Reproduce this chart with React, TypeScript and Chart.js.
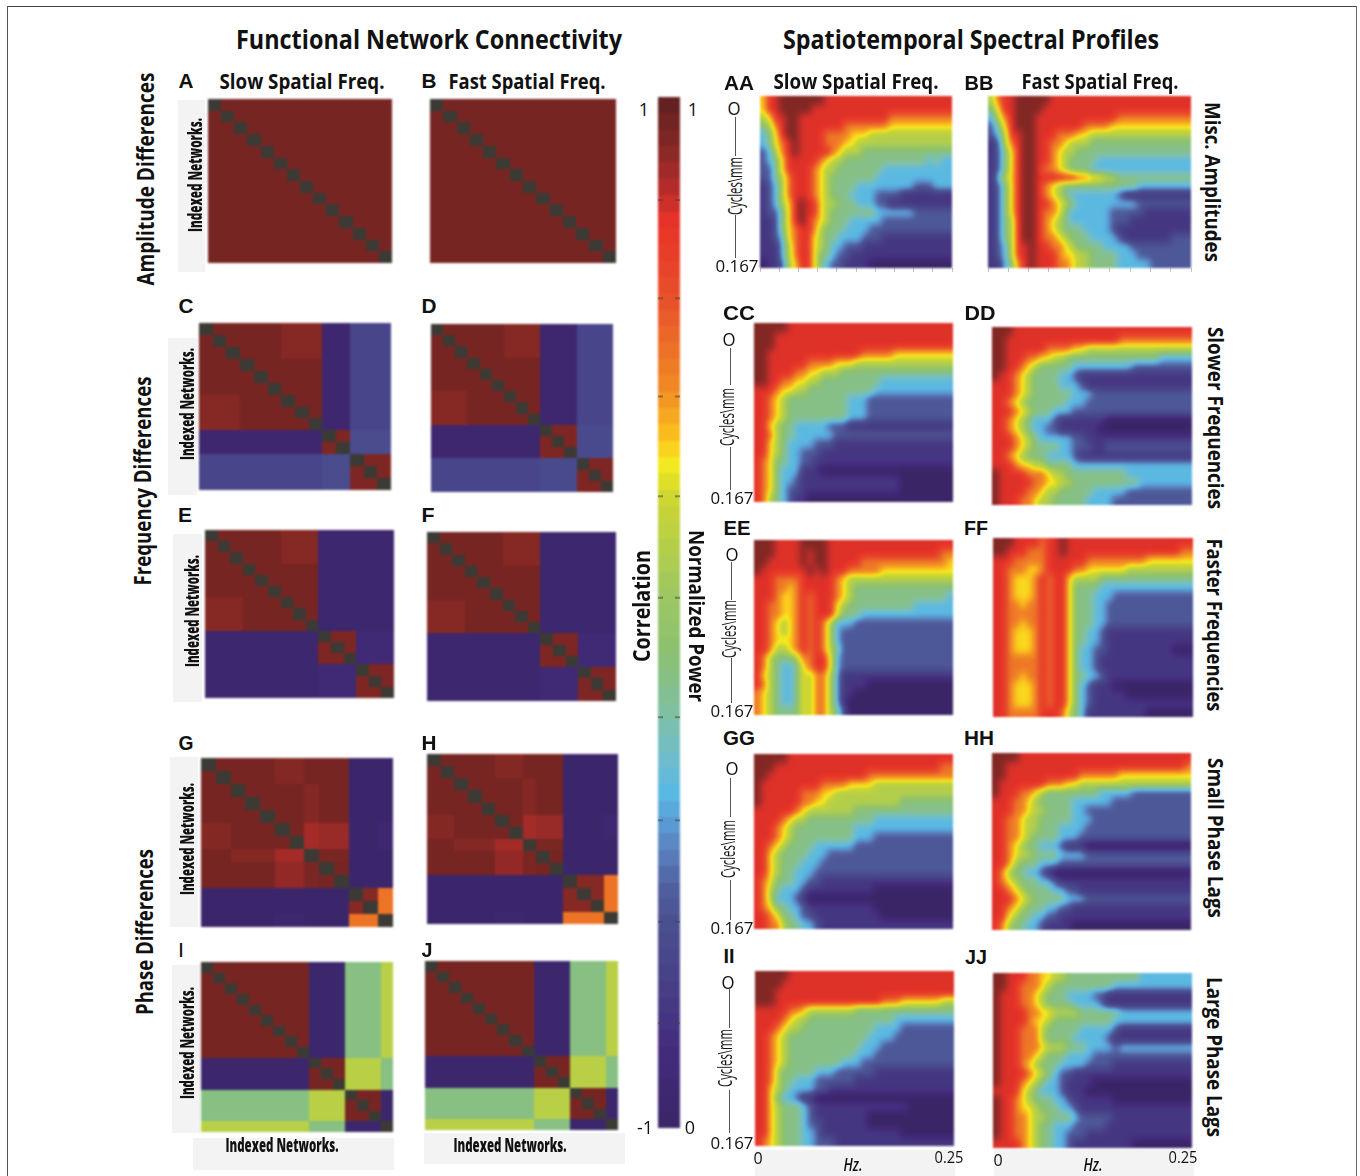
import React, { useEffect, useRef } from "react";
import { Chart, registerables } from "chart.js";

Chart.register(...registerables);

// ---------- Colour scale (position 0 = top of the bar, 1 = bottom) ----------
const colorStops: [number, number, number, number][] = [
  [0, 0x5e, 0x20, 0x20], [0.05, 0x86, 0x28, 0x24], [0.085, 0xb0, 0x2c, 0x2a], [0.12, 0xe7, 0x32, 0x28],
  [0.194, 0xe8, 0x4f, 0x2a], [0.283, 0xf0, 0x8a, 0x24], [0.332, 0xfb, 0xc4, 0x1c], [0.355, 0xf6, 0xea, 0x1f],
  [0.387, 0xcf, 0xd6, 0x2f], [0.478, 0x9e, 0xc8, 0x60], [0.539, 0x8c, 0xc0, 0x70], [0.594, 0x7f, 0xc0, 0xa0],
  [0.636, 0x72, 0xbd, 0xc8], [0.675, 0x5a, 0xb9, 0xe2], [0.7, 0x5a, 0x9f, 0xd6], [0.733, 0x5a, 0x7f, 0xbc],
  [0.766, 0x50, 0x60, 0x9f], [0.8, 0x4a, 0x4f, 0x90], [0.863, 0x47, 0x3f, 0x86], [0.927, 0x43, 0x2b, 0x7c],
  [1, 0x3a, 0x25, 0x66],
];
const toneCurve: [number, number][] = [
  [0, 0.03], [0.02, 0.045], [0.13, 0.115], [0.25, 0.27], [0.38, 0.37], [0.47, 0.45], [0.56, 0.56], [1, 1],
];
const diagonalColor = [0x3c, 0x3a, 0x34];

// ---------- Functional network connectivity: block sizes and block correlations ----------
const blocksA = [14];
const corrA = [[0.94]];
const blocksB = [14];
const corrB = [[0.94]];

const blocksC = [3, 3, 3, 2, 3];
const corrC = [
  [0.94, 0.94, 0.9, -0.94, -0.68],
  [0.94, 0.94, 0.94, -0.94, -0.68],
  [0.9, 0.94, 0.94, -0.94, -0.68],
  [-0.94, -0.94, -0.94, 0.92, -0.62],
  [-0.68, -0.68, -0.68, -0.62, 0.92],
];
const blocksD = [3, 3, 3, 3, 3];
const corrD = [
  [0.94, 0.94, 0.9, -0.94, -0.68],
  [0.94, 0.94, 0.94, -0.94, -0.68],
  [0.9, 0.94, 0.94, -0.94, -0.68],
  [-0.94, -0.94, -0.94, 0.92, -0.64],
  [-0.68, -0.68, -0.68, -0.64, 0.92],
];
const blocksE = [3, 3, 3, 3, 3];
const corrE = [
  [0.94, 0.94, 0.9, -0.95, -0.95],
  [0.94, 0.94, 0.94, -0.95, -0.95],
  [0.9, 0.94, 0.94, -0.95, -0.95],
  [-0.95, -0.95, -0.95, 0.92, -0.9],
  [-0.95, -0.95, -0.95, -0.9, 0.92],
];
const blocksF = [3, 3, 3, 3, 3];
const corrF = [
  [0.94, 0.94, 0.9, -0.95, -0.95],
  [0.94, 0.94, 0.94, -0.95, -0.95],
  [0.9, 0.94, 0.94, -0.95, -0.95],
  [-0.95, -0.95, -0.95, 0.92, -0.9],
  [-0.95, -0.95, -0.95, -0.9, 0.92],
];
const blocksG = [2, 3, 2, 1, 2, 2, 1];
const corrG = [
  [0.94, 0.94, 0.905, 0.94, 0.94, -0.97, -0.97],
  [0.94, 0.94, 0.94, 0.905, 0.94, -0.97, -0.97],
  [0.905, 0.94, 0.94, 0.85, 0.87, -0.97, -0.92],
  [0.94, 0.905, 0.85, 0.94, 0.93, -0.97, -0.97],
  [0.94, 0.94, 0.88, 0.93, 0.94, -0.97, -0.97],
  [-0.97, -0.97, -0.97, -0.97, -0.97, 0.9, 0.5],
  [-0.97, -0.97, -0.95, -0.97, -0.97, 0.5, 0.9],
];
const blocksH = [2, 3, 2, 1, 2, 3, 1];
const corrH = [
  [0.94, 0.94, 0.905, 0.94, 0.94, -0.97, -0.97],
  [0.94, 0.94, 0.94, 0.905, 0.94, -0.97, -0.97],
  [0.905, 0.94, 0.94, 0.85, 0.87, -0.97, -0.92],
  [0.94, 0.905, 0.85, 0.94, 0.93, -0.97, -0.97],
  [0.94, 0.94, 0.88, 0.93, 0.94, -0.97, -0.97],
  [-0.97, -0.97, -0.97, -0.97, -0.97, 0.9, 0.5],
  [-0.97, -0.97, -0.95, -0.97, -0.97, 0.5, 0.9],
];
const blocksI = [9, 3, 3, 1];
const corrI = [
  [0.94, -0.96, -0.12, 0.14],
  [-0.96, 0.94, 0.14, -0.12],
  [-0.12, 0.14, 0.94, -0.96],
  [0.14, -0.12, -0.96, 0.94],
];
const blocksJ = [9, 3, 3, 1];
const corrJ = [
  [0.94, -0.96, -0.12, 0.14],
  [-0.96, 0.94, 0.14, -0.12],
  [-0.12, 0.14, 0.94, -0.96],
  [0.14, -0.12, -0.96, 0.94],
];

// ---------- Spatiotemporal spectral profiles: normalized power, 0-9 = 0..1, row = spatial freq, col = Hz ----------
const powerAA = [
  "688999999988888888888888888888",
  "688999998888888888888888888888",
  "568899888888888888887777777777",
  "457899888888877777776666666666",
  "346899888877776665555555555555",
  "346789888877766555555555555555",
  "235789888887655544444444444444",
  "234688888765544444444444443433",
  "224688887655444444433333333333",
  "224578887654444444333333333333",
  "123578887654444333333333222333",
  "123578887654443333222211111111",
  "123568988655444333221111111111",
  "122468988654444444333333222222",
  "112468987654443333322222222222",
  "112467887544433332222222222222",
  "112367886544333322211111111111",
  "111357886543322211111111111111",
  "111357886443221111111111111111",
  "011256886432211110000000000000",
];
const powerBB = [
  "578899999888888888888888888888",
  "468899998888888888888888888888",
  "357899988888888888877777777777",
  "246899988888887777666666666666",
  "235889988877766555555555555555",
  "125789988776555444444444444444",
  "124689988765544444444444444444",
  "124689988765444433333333333333",
  "124689987765444333333333333333",
  "135689988888877665544444444444",
  "124689987654444444444433333333",
  "124689987654333333321111111111",
  "124689988765433333333322222222",
  "124689987764333333222221111111",
  "124589987654333333222111111111",
  "124589987654443333211111111111",
  "124589987765444333321111111222",
  "123588988776544443333222222222",
  "123588988876655444433322222222",
  "113478988877655444433333222222",
];
const powerCC = [
  "999998888888888888888888888888",
  "999888888888888888888888888888",
  "999888888888888888888888888888",
  "998888888888888877777666666666",
  "998888887777666555555555555555",
  "998888776655544444444444444444",
  "998877665544444444433333333333",
  "888766554444444444333333333333",
  "887654444444443332222222222222",
  "887654444444443332222222222222",
  "887654444444443332222222222222",
  "886544333332221111111111111111",
  "887544333333222222222222222222",
  "886543333222111111111111111111",
  "886543322211111111111111111111",
  "876443322111111111111111111111",
  "876433311100000000000000000000",
  "876433211111111111111100000000",
  "876432211111111111111100000000",
  "875432110000000000000000000000",
];
const powerDD = [
  "999888888888888888888888888888",
  "998888888888888888877777777777",
  "998888887777665555555555555555",
  "998887766554444444444444433333",
  "998876544444333333333222222222",
  "988765444433211111111111111111",
  "888765444433321111111111111111",
  "888765444444333222222222222222",
  "887654444443332222222222222222",
  "888765444333222222222222222222",
  "887654333211111110000000000000",
  "887654332211111100000000000000",
  "888765433333221111111111111111",
  "888765444433222112222222222222",
  "887654443333211111111111111111",
  "888766554444333333333333333333",
  "988887776554444444443333333333",
  "988888776655444444444433333333",
  "988887765544444333332222222222",
  "988877655444443333222222222222",
];
const powerEE = [
  "999888899998888888888888888888",
  "999888898998888888888888888877",
  "998888898998888877777777777776",
  "988888889898887777766666666666",
  "888777788888765555555555555555",
  "888776788888765444444444444444",
  "888766787888765444444444444443",
  "887766787888654444444444333333",
  "887766787888644433333333333333",
  "887656787875333222222222222222",
  "887656787875322222222222222222",
  "887666787875322222222222222222",
  "887556787875422222222222222222",
  "875444577886322222222222222222",
  "875433467886322222222222222222",
  "865433465775311111111111111111",
  "875433465775311110000000000000",
  "765433465775311000000000000000",
  "765433465775310000000000000000",
  "765444465775420000000000000000",
];
const powerFF = [
  "999888878898888888888888888888",
  "998887778898888888888888888877",
  "888777778888887777777776666666",
  "887776678888776666665555555555",
  "887666787886555544444444444444",
  "887666787886444433333333333333",
  "887666787886444333222222222222",
  "887767787886444332222222222222",
  "887777787886444332222222222222",
  "887767787886444332222222222222",
  "887666787886443321111111111111",
  "887666787886443321111111111111",
  "887666787886433221111111111000",
  "887777787886433211111111111111",
  "887777787886433211111111111111",
  "887767787886443321111111111111",
  "887666787886432111000000000000",
  "887666787886432111110000000000",
  "887666787886432111111111111111",
  "887777788875431111111110000000",
];
const powerGG = [
  "999998888888888888888888888888",
  "999888888888888888888888888877",
  "998888888888888887777777777777",
  "988888888877776666555555555555",
  "988888877766555555555555555555",
  "988888877665555555555544444444",
  "888888765555555444444444444444",
  "888876554444444444333333333333",
  "888765444444444333333333333333",
  "888765444444444333222222222222",
  "887654444333333222222222222222",
  "886544443332222222222222222222",
  "886544433322222222222222222222",
  "886544333222222222222222222222",
  "876444332211111111111111111111",
  "875433321111111111000000000000",
  "875333210000000000000000000000",
  "876443321111111111000000000000",
  "887644322111111111100000000000",
  "887754433211111111111111111111",
];
const powerHH = [
  "999988888888888888888888888888",
  "998888888888888888888888888887",
  "998888888888877777766666666666",
  "988888887776655555555555555555",
  "988877654444444433333222222222",
  "888776544444333333222222222222",
  "888776554444332222222222222222",
  "887765544444333222222222222222",
  "887765544433332222222222222222",
  "887765444433322222222222222222",
  "887654433321110000000000000000",
  "887655444433332222222222222222",
  "887544433322222222222222222222",
  "875443321000000000000000000000",
  "876544433211111111111111111111",
  "887654444332211111111111111111",
  "888765444443332222222222222222",
  "887654443322111111111111111111",
  "886544332211111111111111111111",
  "875443321111000000000000000000",
];
const powerII = [
  "999998888888888888888888888888",
  "999988888888888888888888888888",
  "999888888888888888888888888888",
  "999888888888888888877766666655",
  "888887765555555444444444444444",
  "888876554444444444444333333333",
  "888765544444444444333322222222",
  "887654444444444443333222222222",
  "887654444444444433322222222222",
  "887654444444444333222222222222",
  "887654444444433322222222222222",
  "887544444333222222111111111111",
  "887544333222222111111111111111",
  "886543333221111111111111111111",
  "886433211000000000000000000000",
  "886544432111111111111110000000",
  "886544432111111110000000000000",
  "886544432211111110000000000000",
  "886544433211111111111100000000",
  "876544433222111111111111111111",
];
const powerJJ = [
  "998887766554444444444433333333",
  "998877765444444444333333333333",
  "988877654443333221111111111111",
  "988877654444333321111111111111",
  "988887766555544444433333333333",
  "988887665444444444333333333333",
  "988877754444433333211111111111",
  "988877754444333332111111111111",
  "988877765554443333233333333333",
  "988877654443333222222222222222",
  "988876544433332222111111111111",
  "988887654322111111111111111111",
  "988876543321111000000000000000",
  "888865433321110000000000000000",
  "988765444332111111000000000000",
  "988766544433211111111111111111",
  "988776554444322222111111111111",
  "988776544333222221111111111111",
  "988776544332221111111111111111",
  "888876544332111111111000000000",
];

// ---------- Colour bar ----------
const colorbarRowCount = [63];
const colorbarTickRows = [6.3, 12.3, 18.3, 24.4, 30.6, 37.9, 44.2, 50.4, 56.6];
const hzTickSteps = [3];

// ---------- Helpers ----------
function scaleColor(t: number): number[] {
  const p = Math.min(1, Math.max(0, t));
  for (let i = 1; i < colorStops.length; i++) {
    if (p <= colorStops[i][0]) {
      const a = colorStops[i - 1];
      const b = colorStops[i];
      const f = (p - a[0]) / (b[0] - a[0]);
      return [a[1] + (b[1] - a[1]) * f, a[2] + (b[2] - a[2]) * f, a[3] + (b[3] - a[3]) * f];
    }
  }
  const l = colorStops[colorStops.length - 1];
  return [l[1], l[2], l[3]];
}
function applyTone(t: number): number {
  for (let i = 1; i < toneCurve.length; i++) {
    if (t <= toneCurve[i][0]) {
      const a = toneCurve[i - 1];
      const b = toneCurve[i];
      return a[1] + ((b[1] - a[1]) * (t - a[0])) / (b[0] - a[0]);
    }
  }
  return t;
}

function corrGrid(blocks: number[], table: number[][]): (number | null)[][] {
  const idx: number[] = [];
  blocks.forEach((n, b) => { for (let i = 0; i < n; i++) idx.push(b); });
  return idx.map((bi, r) => idx.map((bj, c) => (r === c ? null : (1 - table[bi][bj]) / 2)));
}
function powerGrid(rows: string[]): (number | null)[][] {
  return rows.map((s) => s.split("").map((d) => 1 - (Number(d) / 9) * 0.98));
}

// Soft display filter of the resampled field (the reference is a blurred bitmap).
function boxPass(src: Float32Array, W: number, H: number, horizontal: boolean, radius: number): Float32Array {
  const dst = new Float32Array(W * H);
  const len = horizontal ? W : H;
  const lines = horizontal ? H : W;
  for (let l = 0; l < lines; l++) {
    for (let i = 0; i < len; i++) {
      let sum = 0;
      for (let k = -radius; k <= radius; k++) {
        const j = Math.max(0, Math.min(len - 1, i + k));
        sum += horizontal ? src[l * W + j] : src[j * W + l];
      }
      dst[horizontal ? l * W + i : i * W + l] = sum / (2 * radius + 1);
    }
  }
  return dst;
}

const PAD = 3;

const heatPlugin = {
  id: "heat",
  beforeDatasetsDraw(chart: any) {
    const ds = chart.data.datasets[0];
    const cells = ds.data as { x: number; y: number; t: number | null }[];
    const xs = chart.scales.x;
    const ys = chart.scales.y;
    const cols = xs.max;
    const rows = ys.max;
    const x0 = xs.getPixelForValue(0);
    const y0 = ys.getPixelForValue(0);
    const w = xs.getPixelForValue(cols) - x0;
    const h = ys.getPixelForValue(rows) - y0;
    const off = document.createElement("canvas");
    const ctx = chart.ctx;
    ctx.save();
    ctx.filter = `blur(${ds.blurPx}px)`;
    if (ds.smooth) {
      const field = new Float32Array(cols * rows);
      cells.forEach((c) => { field[Math.floor(c.y) * cols + Math.floor(c.x)] = c.t as number; });
      const W = Math.round(w);
      const H = Math.round(h);
      off.width = W;
      off.height = H;
      const octx = off.getContext("2d")!;
      const img = octx.createImageData(W, H);
      let fine = new Float32Array(W * H);
      for (let py = 0; py < H; py++) {
        const v = Math.max(0, Math.min(rows - 1, ((py + 0.5) / H) * rows - 0.5));
        const r0 = Math.floor(v);
        const r1 = Math.min(rows - 1, r0 + 1);
        const fv = v - r0;
        for (let px = 0; px < W; px++) {
          const u = Math.max(0, Math.min(cols - 1, ((px + 0.5) / W) * cols - 0.5));
          const c0 = Math.floor(u);
          const c1 = Math.min(cols - 1, c0 + 1);
          const fu = u - c0;
          fine[py * W + px] =
            (field[r0 * cols + c0] * (1 - fu) + field[r0 * cols + c1] * fu) * (1 - fv) +
            (field[r1 * cols + c0] * (1 - fu) + field[r1 * cols + c1] * fu) * fv;
        }
      }
      fine = boxPass(boxPass(fine, W, H, true, 3), W, H, true, 3);
      fine = boxPass(boxPass(fine, W, H, false, 3), W, H, false, 2);
      for (let i = 0; i < W * H; i++) {
        const col = scaleColor(applyTone(fine[i]));
        img.data[i * 4] = col[0];
        img.data[i * 4 + 1] = col[1];
        img.data[i * 4 + 2] = col[2];
        img.data[i * 4 + 3] = 255;
      }
      octx.putImageData(img, 0, 0);
      ctx.drawImage(off, x0, y0, w, h);
    } else {
      off.width = cols;
      off.height = rows;
      const octx = off.getContext("2d")!;
      const img = octx.createImageData(cols, rows);
      cells.forEach((c) => {
        const col = c.t === null ? diagonalColor : scaleColor(c.t);
        const o = (Math.floor(c.y) * cols + Math.floor(c.x)) * 4;
        img.data[o] = col[0];
        img.data[o + 1] = col[1];
        img.data[o + 2] = col[2];
        img.data[o + 3] = 255;
      });
      octx.putImageData(img, 0, 0);
      ctx.imageSmoothingEnabled = false;
      ctx.drawImage(off, x0, y0, w, h);
    }
    ctx.filter = "none";
    if (ds.sideTicks) {
      ctx.fillStyle = "rgba(70,70,70,0.55)";
      ds.sideTicks.forEach((r: number) => {
        const py = ys.getPixelForValue(r);
        ctx.fillRect(x0, py - 1, 5, 2);
        ctx.fillRect(x0 + w - 5, py - 1, 5, 2);
      });
    }
    ctx.restore();
  },
};

type HeatProps = {
  grid: (number | null)[][];
  left: number; top: number; right: number; bottom: number;
  smooth?: boolean; sideTicks?: number[]; hzTicks?: boolean; blur?: number;
};

function Heat({ grid, left, top, right, bottom, smooth, sideTicks, hzTicks, blur }: HeatProps) {
  const ref = useRef<HTMLCanvasElement>(null);
  useEffect(() => {
    const rows = grid.length;
    const cols = grid[0].length;
    const cells: any[] = [];
    grid.forEach((row, r) => row.forEach((t, c) => cells.push({ x: c + 0.5, y: r + 0.5, t })));
    const chart = new Chart(ref.current!, {
      type: "scatter",
      data: { datasets: [{ data: cells, pointRadius: 0, smooth, sideTicks, blurPx: blur ?? 0.8 } as any] },
      options: {
        responsive: false,
        animation: false,
        events: [],
        layout: { padding: PAD },
        plugins: { legend: { display: false }, tooltip: { enabled: false }, title: { display: false } },
        scales: {
          x: hzTicks
            ? {
                type: "linear", min: 0, max: cols,
                ticks: { display: true, stepSize: hzTickSteps[0], callback: () => "", padding: 0 },
                grid: { drawOnChartArea: false, drawTicks: true, tickLength: 4, color: "#c4c4c4" },
                border: { display: false },
                afterFit: (s: any) => { s.height = 5; s.paddingLeft = 0; s.paddingRight = 0; },
              }
            : { type: "linear", min: 0, max: cols, display: false },
          y: { type: "linear", min: 0, max: rows, reverse: true, display: false },
        },
      } as any,
      plugins: [heatPlugin as any],
    });
    return () => chart.destroy();
  }, []);
  const w = right - left + PAD * 2;
  const h = bottom - top + PAD * 2 + (hzTicks ? 5 : 0);
  return (
    <canvas
      ref={ref}
      width={w}
      height={h}
      style={{ position: "absolute", left: left - PAD, top: top - PAD, width: w, height: h, display: "block" }}
    />
  );
}

// ---------- Text ----------
const measureCtx = document.createElement("canvas").getContext("2d")!;
const HEAD = '"Open Sans"';
const ARIAL = '"Liberation Sans"';

function Label({ t, cx, cy, len, size, weight = 700, rot = 0, font = HEAD, italic = false, color = "#111" }: any) {
  const style = italic ? "italic " : "";
  measureCtx.font = `${style}${weight} ${size}px ${font}`;
  const natural = measureCtx.measureText(t).width;
  const s = len ? len / natural : 1;
  return (
    <div
      style={{
        position: "absolute", left: cx, top: cy, whiteSpace: "nowrap", lineHeight: 1, color,
        fontFamily: font, fontSize: size, fontWeight: weight, fontStyle: italic ? "italic" : "normal",
        transform: `translate(-50%,-50%) rotate(${rot}deg) scaleX(${s})`,
      }}
    >
      {t}
    </div>
  );
}

function Box({ x0, y0, x1, y1, bg = "#f3f3f3" }: any) {
  return <div style={{ position: "absolute", left: x0, top: y0, width: x1 - x0, height: y1 - y0, background: bg }} />;
}

function CycleAxis({ o, lineX, a0, a1, b0, b1, textX, textMid, zeroMid }: any) {
  return (
    <>
      <Label t="O" cx={o[0]} cy={o[1]} size={18} weight={400} len={13} />
      <Box x0={lineX} y0={a0} x1={lineX + 1} y1={a1} bg="#555" />
      <Box x0={lineX} y0={b0} x1={lineX + 1} y1={b1} bg="#555" />
      <Label t="Cycles\mm" cx={textX} cy={textMid} size={20} weight={400} rot={-90} len={58} />
      <Label t="0.167" cx={zeroMid[0]} cy={zeroMid[1]} size={17} weight={400} len={43} />
    </>
  );
}

const panelLetters: [string, number, number, number][] = [
  ["A", 185.5, 81, 15], ["B", 428.5, 81, 15], ["C", 186, 306, 15], ["D", 429, 306, 15],
  ["E", 185, 515, 14], ["F", 428, 515, 13], ["G", 186, 743, 15], ["H", 429, 743, 15],
  ["I", 181, 950, 4], ["J", 427, 950, 11],
  ["AA", 739, 83, 30], ["BB", 978.5, 83, 29], ["CC", 739, 313, 32], ["DD", 979.5, 313, 31],
  ["EE", 736.5, 528, 27], ["FF", 976, 528, 24], ["GG", 739, 738, 32], ["HH", 979, 738, 30],
  ["II", 729, 956, 11], ["JJ", 976, 957, 22],
];

export default function App() {
  useEffect(() => {
    document.body.style.margin = "0";
  }, []);
  const barRows = Array.from({ length: colorbarRowCount[0] }, (_, i) => [(i + 0.5) / colorbarRowCount[0]]);
  return (
    <div style={{ position: "absolute", left: 0, top: 0, width: 1360, height: 1176, background: "#fff", overflow: "hidden" }}>
      {/* frame */}
      <Box x0={7} y0={6} x1={1357} y1={7} bg="#444" />
      <Box x0={7} y0={6} x1={8} y1={1176} bg="#555" />
      <Box x0={1355.5} y0={6} x1={1357} y1={1176} bg="#666" />

      {/* grey strips behind axis names */}
      <Box x0={178} y0={100} x1={205} y1={272} />
      <Box x0={168} y0={338} x1={197} y1={495} />
      <Box x0={173} y0={534} x1={202} y1={702} />
      <Box x0={170} y0={757} x1={198} y1={927} />
      <Box x0={172} y0={965} x1={200} y1={1133} />
      <Box x0={193} y0={1138} x1={394} y1={1170} />
      <Box x0={424} y0={1133} x1={625} y1={1164} />
      <Box x0={755} y0={1150} x1={955} y1={1176} />
      <Box x0={994} y0={1150} x1={1194} y1={1176} />

      {/* connectivity matrices */}
      <Heat grid={corrGrid(blocksA, corrA)} left={208} top={99} right={392} bottom={263} />
      <Heat grid={corrGrid(blocksB, corrB)} left={430} top={99} right={616} bottom={263} />
      <Heat grid={corrGrid(blocksC, corrC)} left={199} top={323} right={391} bottom={490} />
      <Heat grid={corrGrid(blocksD, corrD)} left={431} top={324} right={613} bottom={492} />
      <Heat grid={corrGrid(blocksE, corrE)} left={205} top={530} right={394} bottom={698} />
      <Heat grid={corrGrid(blocksF, corrF)} left={427} top={532} right={616} bottom={701} />
      <Heat grid={corrGrid(blocksG, corrG)} left={201} top={758} right={393} bottom={927} />
      <Heat grid={corrGrid(blocksH, corrH)} left={427} top={754} right={618} bottom={924} />
      <Heat grid={corrGrid(blocksI, corrI)} left={201} top={962} right={393} bottom={1132} />
      <Heat grid={corrGrid(blocksJ, corrJ)} left={425} top={961} right={618} bottom={1130} />

      {/* colour bar */}
      <Heat grid={barRows} left={658} top={97} right={680} bottom={1128} sideTicks={colorbarTickRows} blur={1} />

      {/* spectral profiles */}
      <Heat grid={powerGrid(powerAA)} left={760} top={96} right={952} bottom={268} smooth hzTicks />
      <Heat grid={powerGrid(powerBB)} left={988} top={96} right={1191} bottom={268} smooth hzTicks />
      <Heat grid={powerGrid(powerCC)} left={754} top={323} right={953} bottom={502} smooth />
      <Heat grid={powerGrid(powerDD)} left={992} top={327} right={1192} bottom={505} smooth />
      <Heat grid={powerGrid(powerEE)} left={754} top={540} right={953} bottom={715} smooth />
      <Heat grid={powerGrid(powerFF)} left={993} top={538} right={1193} bottom={717} smooth />
      <Heat grid={powerGrid(powerGG)} left={754} top={754} right={953} bottom={929} smooth />
      <Heat grid={powerGrid(powerHH)} left={992} top={753} right={1191} bottom={930} smooth />
      <Heat grid={powerGrid(powerII)} left={755} top={971} right={954} bottom={1146} smooth />
      <Heat grid={powerGrid(powerJJ)} left={993} top={973} right={1192} bottom={1148} smooth />

      {/* headings */}
      <Label t="Functional Network Connectivity" cx={429} cy={38} len={386} size={27} />
      <Label t="Spatiotemporal Spectral Profiles" cx={971} cy={38} len={376} size={27} />
      <Label t="Slow Spatial Freq." cx={301.5} cy={80} len={165} size={22} />
      <Label t="Fast Spatial Freq." cx={526.5} cy={80} len={157} size={22} />
      <Label t="Slow Spatial Freq." cx={855.5} cy={80} len={165} size={22} />
      <Label t="Fast Spatial Freq." cx={1099.5} cy={80} len={157} size={22} />

      {panelLetters.map(([t, cx, cy, len]) => (
        <Label key={t} t={t} cx={cx} cy={cy} len={len} size={20} weight={700} font={ARIAL} />
      ))}

      {/* row names */}
      <Label t="Amplitude Differences" cx={145} cy={179} len={213} size={24} rot={-90} />
      <Label t="Frequency Differences" cx={142} cy={481} len={209} size={24} rot={-90} />
      <Label t="Phase Differences" cx={144} cy={932} len={166} size={24} rot={-90} />
      <Label t="Correlation" cx={641} cy={606} len={112} size={24} rot={-90} />
      <Label t="Normalized Power" cx={698} cy={616} len={172} size={22} rot={90} />
      <Label t="Misc. Amplitudes" cx={1214} cy={182} len={160} size={22} rot={90} />
      <Label t="Slower Frequencies" cx={1217} cy={418} len={182} size={22} rot={90} />
      <Label t="Faster Frequencies" cx={1216} cy={624.5} len={173} size={22} rot={90} />
      <Label t="Small Phase Lags" cx={1217} cy={838} len={160} size={22} rot={90} />
      <Label t="Large Phase Lags" cx={1216} cy={1057} len={160} size={22} rot={90} />

      {/* matrix axis names */}
      <Label t="Indexed Networks." cx={195} cy={175} len={114} size={20} weight={800} rot={-90} />
      <Label t="Indexed Networks." cx={187} cy={404} len={112} size={20} weight={800} rot={-90} />
      <Label t="Indexed Networks." cx={192} cy={611} len={112} size={20} weight={800} rot={-90} />
      <Label t="Indexed Networks." cx={187} cy={839} len={112} size={20} weight={800} rot={-90} />
      <Label t="Indexed Networks." cx={187} cy={1043} len={112} size={20} weight={800} rot={-90} />
      <Label t="Indexed Networks." cx={281.5} cy={1145} len={113} size={20} weight={800} />
      <Label t="Indexed Networks." cx={509.5} cy={1145} len={113} size={20} weight={800} />

      {/* colour bar labels */}
      <Label t="1" cx={644} cy={109} size={18} weight={400} />
      <Label t="1" cx={693} cy={109} size={18} weight={400} />
      <Label t="-1" cx={645} cy={1127} size={18} weight={400} />
      <Label t="0" cx={690} cy={1127} size={18} weight={400} />

      {/* cycle axes */}
      <CycleAxis o={[734, 108]} lineX={735} a0={117} a1={156} b0={215} b1={258} textX={735} textMid={186} zeroMid={[737, 265]} />
      <CycleAxis o={[729, 339]} lineX={730} a0={348} a1={385} b0={447} b1={490} textX={727} textMid={417} zeroMid={[731.5, 497]} />
      <CycleAxis o={[732, 554]} lineX={731} a0={562} a1={600} b0={658} b1={703} textX={729} textMid={629} zeroMid={[731.5, 710]} />
      <CycleAxis o={[732, 768]} lineX={730} a0={778} a1={817} b0={880} b1={920} textX={728} textMid={849} zeroMid={[731.5, 927]} />
      <CycleAxis o={[728, 982]} lineX={729} a0={987} a1={1028} b0={1090} b1={1133} textX={725} textMid={1058} zeroMid={[731.5, 1142]} />

      {/* Hz axes */}
      <Label t="0" cx={758} cy={1158} size={16} weight={400} />
      <Label t="0.25" cx={948.5} cy={1157} size={16} weight={400} len={29} />
      <Label t="Hz." cx={852.5} cy={1164} size={18} weight={600} italic len={19} />
      <Label t="0" cx={998} cy={1160} size={16} weight={400} />
      <Label t="0.25" cx={1182.5} cy={1157} size={16} weight={400} len={29} />
      <Label t="Hz." cx={1092.5} cy={1164} size={18} weight={600} italic len={19} />
    </div>
  );
}
